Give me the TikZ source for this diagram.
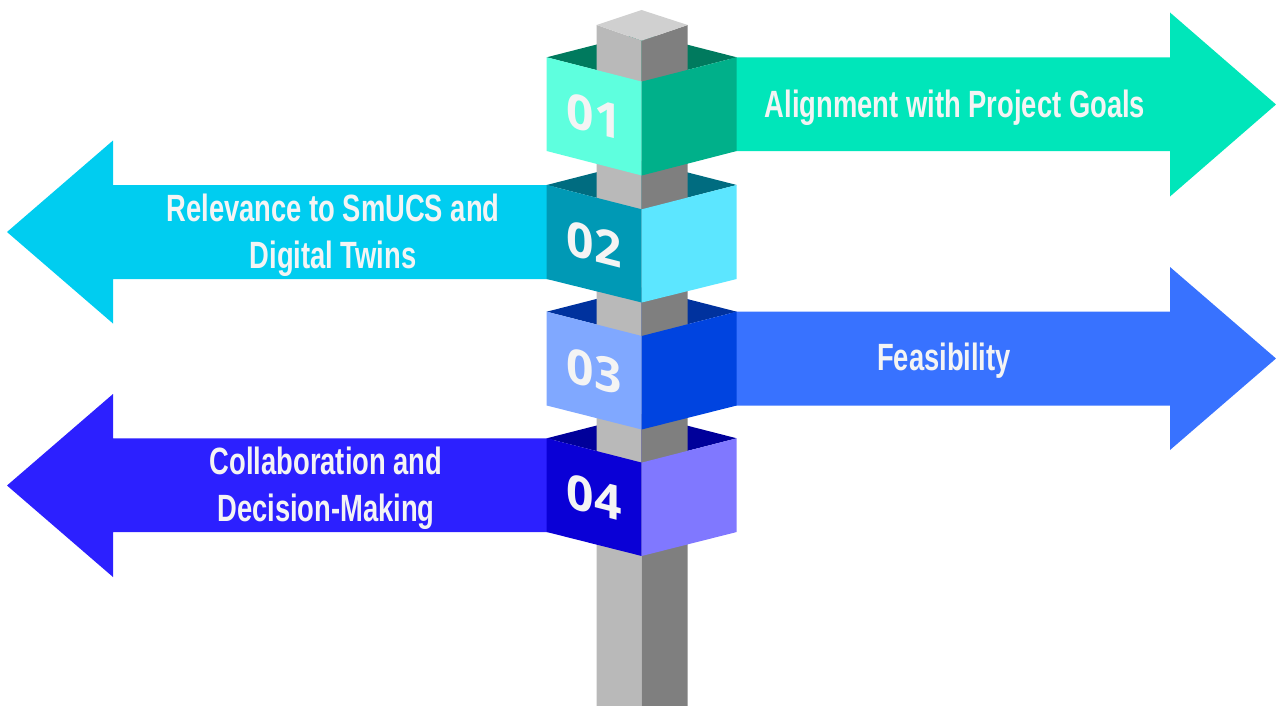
\documentclass[tikz,border=0pt]{standalone}
\usepackage{fontspec}
\newfontfamily\signfont[FakeStretch=0.72]{Liberation Sans}
\newfontfamily\numberfont{Open Sans}
\definecolor{poletop}{RGB}{208,208,208}
\definecolor{poleleft}{RGB}{185,185,185}
\definecolor{poleright}{RGB}{127,127,127}
\definecolor{mintarrow}{RGB}{0,230,186}
\definecolor{mintlight}{RGB}{94,255,222}
\definecolor{mintdark}{RGB}{0,176,138}
\definecolor{mintinner}{RGB}{0,122,94}
\definecolor{cyanarrow}{RGB}{0,205,240}
\definecolor{cyanlight}{RGB}{92,230,255}
\definecolor{cyandark}{RGB}{0,153,181}
\definecolor{cyaninner}{RGB}{0,108,128}
\definecolor{bluearrow}{RGB}{56,114,255}
\definecolor{bluelight}{RGB}{128,168,255}
\definecolor{bluedark}{RGB}{0,68,224}
\definecolor{blueinner}{RGB}{0,50,158}
\definecolor{indigoarrow}{RGB}{44,32,255}
\definecolor{indigolight}{RGB}{128,120,255}
\definecolor{indigodark}{RGB}{10,0,214}
\definecolor{indigoinner}{RGB}{0,0,154}
\definecolor{signwhite}{RGB}{244,244,244}
\usepackage{tikz}
\usetikzlibrary{shapes,arrows,positioning,calc}

\begin{document}
\begin{tikzpicture}[x=1pt,y=-1pt,
    signtext/.style={text=signwhite,inner sep=0pt,align=center,
                     font=\signfont\bfseries\fontsize{38}{46.6}\selectfont},
    numtext/.style={text=signwhite,inner sep=0pt,transform shape,
                    font=\numberfont\bfseries\fontsize{48}{48}\selectfont}]
                \useasboundingbox (0,0) rectangle (1276,706);
                % arrows
                \fill[mintarrow] (730,57.3) -- (1170,57.3) -- (1170,12.5) -- (1276,104.5)
                    -- (1170,196.5) -- (1170,151) -- (730,151) -- cycle;
                \fill[cyanarrow] (553,185) -- (113,185) -- (113,140.5) -- (7,232)
                    -- (113,323.5) -- (113,279) -- (553,279) -- cycle;
                \fill[bluearrow] (730,311.7) -- (1170,311.7) -- (1170,267) -- (1276,358.5)
                    -- (1170,450) -- (1170,405.5) -- (730,405.5) -- cycle;
                \fill[indigoarrow] (553,438.3) -- (113,438.3) -- (113,394) -- (7,485.5)
                    -- (113,577) -- (113,532) -- (553,532) -- cycle;
                % inside of the sleeves
                \fill[mintinner] (546.7,57.3) -- (641.7,33) -- (736.7,57.3) -- (641.7,81.6) -- cycle;
                \fill[cyaninner] (546.7,185) -- (641.7,160.7) -- (736.7,185) -- (641.7,209.3) -- cycle;
                \fill[blueinner] (546.7,311.7) -- (641.7,287.4) -- (736.7,311.7) -- (641.7,336) -- cycle;
                \fill[indigoinner] (546.7,438.3) -- (641.7,414) -- (736.7,438.3) -- (641.7,462.6) -- cycle;
                % post
                \fill[poleleft] (596.7,25) -- (641.7,40.7) -- (641.7,706) -- (596.7,706) -- cycle;
                \fill[poleright] (641.7,40.7) -- (687.7,25) -- (687.7,706) -- (641.7,706) -- cycle;
                \fill[poletop] (596.7,25) -- (641.5,10) -- (687.7,25) -- (641.7,40.7) -- cycle;
                % sleeve faces
                \fill[mintlight] (546.7,57.3) -- (641.7,81.6) -- (641.7,175.5) -- (546.7,151) -- cycle;
                \fill[mintdark] (641.7,81.6) -- (736.7,57.3) -- (736.7,151) -- (641.7,175.5) -- cycle;
                \fill[cyandark] (546.7,185) -- (641.7,209.3) -- (641.7,302.5) -- (546.7,279) -- cycle;
                \fill[cyanlight] (641.7,209.3) -- (736.7,185) -- (736.7,279) -- (641.7,302.5) -- cycle;
                \fill[bluelight] (546.7,311.7) -- (641.7,336) -- (641.7,429.5) -- (546.7,405.5) -- cycle;
                \fill[bluedark] (641.7,336) -- (736.7,311.7) -- (736.7,405.5) -- (641.7,429.5) -- cycle;
                \fill[indigodark] (546.7,438.3) -- (641.7,462.6) -- (641.7,556) -- (546.7,532) -- cycle;
                \fill[indigolight] (641.7,462.6) -- (736.7,438.3) -- (736.7,532) -- (641.7,556) -- cycle;
                % numbers
                \node[numtext,shift={(594.2,116.6)},yslant=-0.256] (num1) at (0,0) {01};
                \node[numtext,shift={(594.2,244.3)},yslant=-0.256] (num2) at (0,0) {02};
                \node[numtext,shift={(594.2,371)},yslant=-0.256] (num3) at (0,0) {03};
                \node[numtext,shift={(594.2,497.6)},yslant=-0.256] (num4) at (0,0) {04};
                % labels
                \node[signtext] (goals) at (955,107.5) {Alignment with Project Goals};
                \node[signtext] (twins) at (333,235) {Relevance to SmUCS and\\Digital Twins};
                \node[signtext] (feasible) at (944,361) {Feasibility};
                \node[signtext] (decide) at (326,488) {Collaboration and\\Decision-Making};
            \end{tikzpicture}
\end{document}
